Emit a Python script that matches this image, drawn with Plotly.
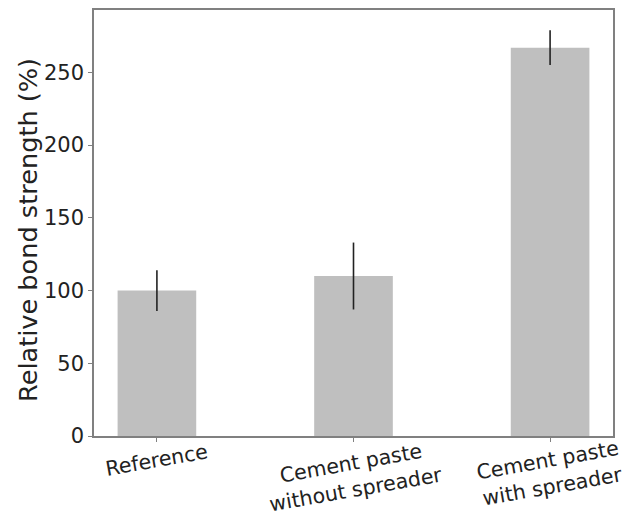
import plotly.graph_objects as go

categories = ["Reference", "Cement paste<br>without spreader", "Cement paste<br>with spreader"]
values = [100, 110, 267]
errors = [14, 23, 12]
y_ticks = [0, 50, 100, 150, 200, 250]

font = "DejaVu Sans"
txt = "#222222"
fs = 20.5

fig = go.Figure()
fig.add_trace(go.Bar(
    x=list(range(len(categories))),
    y=values,
    width=0.4,
    marker=dict(color="#bfbfbf", line=dict(width=0)),
    error_y=dict(type="data", array=errors, visible=True, color="#222222", thickness=1.6, width=0),
))

for i, c in enumerate(categories):
    fig.add_annotation(
        x=i, xref="x", y=0, yref="paper",
        text=c, showarrow=False, textangle=-10,
        xanchor="center", yanchor="top", yshift=(-1 if "<br>" not in c else 2),
        font=dict(size=fs, family=font, color=txt),
        align="center",
    )

fig.add_annotation(
    x=0, xref="paper", y=0.5, yref="paper",
    text="Relative bond strength (%)", showarrow=False, textangle=-90,
    xanchor="center", yanchor="middle", xshift=-66, yshift=-7,
    font=dict(size=25.6, family=font, color=txt),
)

fig.update_layout(
    width=627, height=516,
    margin=dict(l=94, r=14, t=10, b=80),
    paper_bgcolor="white", plot_bgcolor="white",
    showlegend=False,
    font=dict(family=font, color=txt),
    xaxis=dict(
        range=[-0.32, 2.32],
        tickmode="array",
        tickvals=list(range(len(categories))),
        ticktext=["", "", ""],
        ticks="outside", ticklen=4, tickcolor="#808080", tickwidth=1.2,
        showline=True, linecolor="#808080", linewidth=1.5, mirror=True,
        showgrid=False, zeroline=False, automargin=False,
    ),
    yaxis=dict(
        range=[0, 292.9],
        tickmode="array",
        tickvals=y_ticks,
        tickfont=dict(size=21, family=font, color=txt),
        ticks="outside", ticklen=4, tickcolor="#808080", tickwidth=1.2,
        showline=True, linecolor="#808080", linewidth=1.5, mirror=True,
        showgrid=False, zeroline=False, automargin=False,
    ),
)

fig.write_html(
    "out.html",
    config={"displayModeBar": False},
    post_script="document.body.style.margin='0';document.body.style.overflow='hidden';",
)
